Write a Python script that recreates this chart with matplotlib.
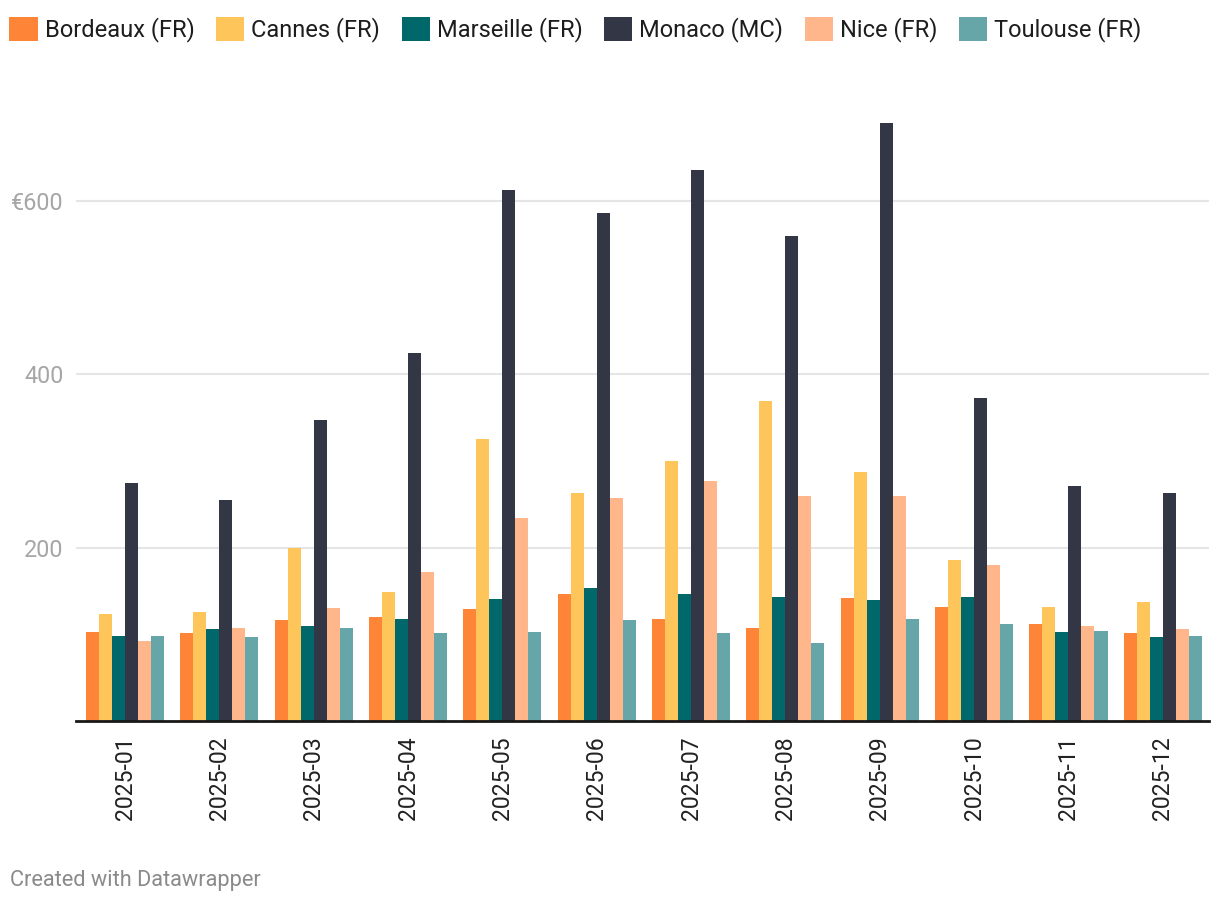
import numpy as np
import matplotlib
matplotlib.use("Agg")
import matplotlib.pyplot as plt

plt.rcParams['font.family'] = ['Roboto', 'DejaVu Sans']

months = ['2025-01', '2025-02', '2025-03', '2025-04', '2025-05', '2025-06',
          '2025-07', '2025-08', '2025-09', '2025-10', '2025-11', '2025-12']

bordeaux  = [103, 101, 116, 120, 129, 146, 118, 107, 142, 131, 112, 101]
cannes    = [123, 126, 200, 149, 325, 263, 300, 369, 287, 186, 131, 137]
marseille = [98, 106, 110, 118, 141, 153, 146, 143, 139, 143, 103, 97]
monaco    = [274, 255, 347, 424, 612, 586, 636, 559, 690, 373, 271, 263]
nice      = [92, 107, 130, 172, 234, 257, 277, 259, 259, 180, 110, 106]
toulouse  = [98, 97, 107, 101, 103, 116, 101, 90, 118, 112, 104, 98]

series = ['Bordeaux (FR)', 'Cannes (FR)', 'Marseille (FR)', 'Monaco (MC)', 'Nice (FR)', 'Toulouse (FR)']
values = [bordeaux, cannes, marseille, monaco, nice, toulouse]
colors = ['#fe8538', '#fec55b', '#00676a', '#333745', '#feb68a', '#66a5a8']

fig = plt.figure(figsize=(12.2, 9.02), dpi=100)
ax = fig.add_axes([0.0623, 0.2007, 0.9287, 0.692])

x = np.arange(len(months))
w = 0.138
for k in range(len(series)):
    ax.bar(x + (k - 2.5) * w, values[k], width=w, color=colors[k], label=series[k], zorder=3)

ax.set_xlim(-0.52, 11.49)
ax.set_ylim(0, 720)
ax.set_yticks([200, 400, 600])
ax.set_yticklabels(['200', '400', '\u20ac600'])
ax.grid(axis='y', color='#e5e5e5', linewidth=1.5, zorder=0)
ax.set_xticks(x)
ax.set_xticklabels(months, rotation=90, fontsize=16.6, color='#222222')
ax.tick_params(axis='x', length=0, pad=11)
ax.tick_params(axis='y', length=0, pad=9, labelsize=16.8, labelcolor='#a6a6a6')
for s in ['top', 'right', 'left']:
    ax.spines[s].set_visible(False)
ax.spines['bottom'].set_color('#181818')
ax.spines['bottom'].set_linewidth(2)
ax.spines['bottom'].set_zorder(4)

fig.legend(loc='upper left', bbox_to_anchor=(0.0, 0.992), ncol=6, frameon=False,
           fontsize=17, handlelength=1.2, handleheight=1.2, handletextpad=0.3,
           columnspacing=0.9, borderaxespad=0.0, labelcolor='#1d1d1d')

fig.text(0.008, 0.018, 'Created with Datawrapper', fontsize=15.7, color='#8a8a8a')

fig.savefig('out.png', dpi=100)
